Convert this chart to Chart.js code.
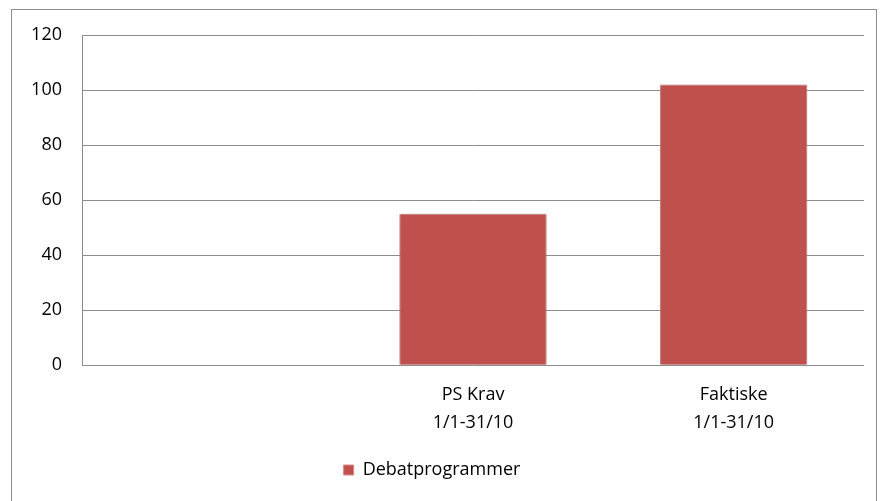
<!DOCTYPE html>
<html>
<head>
<meta charset="utf-8">
<script src="https://cdn.jsdelivr.net/npm/chart.js@4"></script>
<style>
  html, body { margin: 0; padding: 0; background: #fff; }
  #wrap { position: relative; width: 881px; height: 501px; }
  #ramme { position: absolute; left: 11px; top: 9px; width: 864px; height: 520px; border: 1px solid #8c8c8c; pointer-events: none; }
</style>
</head>
<body>
<div id="wrap">
  <canvas id="grafico" width="881" height="501"></canvas>
  <div id="ramme"></div>
</div>
<script>
// data
const kategorier = ['', ['PS Krav', '1/1-31/10'], ['Faktiske', '1/1-31/10']];
const debatprogrammer = [null, 55, 102];
const yTicks = [0, 20, 40, 60, 80, 100, 120];

const skygge = {
  id: 'skygge',
  beforeDatasetsDraw(chart) {
    const ctx = chart.ctx;
    ctx.save();
    ctx.shadowColor = 'rgba(0,0,0,0.3)';
    ctx.shadowBlur = 5;
  },
  afterDatasetsDraw(chart) {
    chart.ctx.restore();
  }
};

const fonte = { family: 'Open Sans', size: 18, lineHeight: 1.55 };
Chart.defaults.color = '#000';

const grafico = new Chart(document.getElementById('grafico'), {
  type: 'bar',
  data: {
    labels: kategorier,
    datasets: [{
      label: 'Debatprogrammer',
      data: debatprogrammer,
      backgroundColor: '#C0504D',
      borderColor: '#d98a88',
      borderWidth: 1,
      barPercentage: 0.565,
      categoryPercentage: 1
    }]
  },
  options: {
    responsive: false,
    animation: false,
    layout: { padding: { top: 35, right: 17, left: 0, bottom: 12 } },
    plugins: {
      tooltip: { enabled: false },
      legend: {
        position: 'bottom',
        labels: {
          boxWidth: 10,
          boxHeight: 10,
          font: { family: 'Open Sans', size: 18 },
          padding: 10
        }
      }
    },
    scales: {
      x: {
        afterFit(scale) { scale.height -= 2; },
        grid: { display: false, drawTicks: false },
        border: { display: false },
        ticks: { font: fonte, padding: 16, maxRotation: 0, autoSkip: false }
      },
      y: {
        min: 0,
        max: 120,
        afterFit(scale) { scale.width = 82; },
        afterBuildTicks(scale) { scale.ticks = yTicks.map(v => ({ value: v })); },
        grid: { color: '#8c8c8c', drawTicks: false },
        border: { color: '#8c8c8c' },
        ticks: { font: { family: 'Open Sans', size: 18 }, padding: 20 }
      }
    }
  },
  plugins: [skygge]
});
</script>
</body>
</html>
